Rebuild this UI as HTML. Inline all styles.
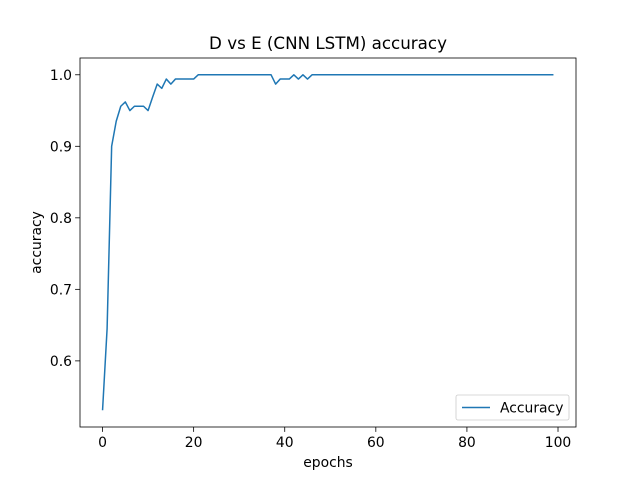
<!DOCTYPE html>
<html><head><meta charset="utf-8"><style>
body{margin:0;background:#fff;font-family:"Liberation Sans","DejaVu Sans",sans-serif}
text{font-family:"DejaVu Sans","Liberation Sans",sans-serif}
</style></head><body>
<svg id="c" width="640" height="480">
<rect width="640" height="480" fill="#fff"/>
</svg>
<script>
const epochs=[];for(let i=0;i<100;i++)epochs.push(i);
const accuracy=[0.531,0.645,0.9,0.935,0.956,0.962,0.95,0.956,0.956,0.956,0.95,0.969,0.987,0.981,0.994,0.987,0.994,0.994,0.994,0.994,0.994,1,1,1,1,1,1,1,1,1,1,1,1,1,1,1,1,1,0.987,0.994,0.994,0.994,1,0.994,1,0.994,1,1,1,1,1,1,1,1,1,1,1,1,1,1,1,1,1,1,1,1,1,1,1,1,1,1,1,1,1,1,1,1,1,1,1,1,1,1,1,1,1,1,1,1,1,1,1,1,1,1,1,1,1,1];
const xTicks=[0,20,40,60,80,100];
const yTicks=[0.6,0.7,0.8,0.9,1.0];
const L=80,R=576,T=58,B=427;
const xmin=-4.95,xmax=103.95;
const ymin=Math.min(...accuracy),ymax=Math.max(...accuracy),yr=ymax-ymin;
const y0=ymin-0.05*yr,y1=ymax+0.05*yr;
const X=v=>L+(v-xmin)/(xmax-xmin)*(R-L);
const Y=v=>B-(v-y0)/(y1-y0)*(B-T);
const s=document.getElementById('c');const NS='http://www.w3.org/2000/svg';
function mk(t,a,p){const e=document.createElementNS(NS,t);for(const k in a)e.setAttribute(k,a[k]);(p||s).appendChild(e);return e;}
let d=epochs.map((e,i)=>(i?'L':'M')+X(e).toFixed(2)+','+Y(accuracy[i]).toFixed(2)).join('');
const line=mk('path',{d:d,fill:'none',stroke:'#1f77b4','stroke-width':1.5,'stroke-linejoin':'round'});


const frame=mk('rect',{x:L,y:T,width:R-L,height:B-T,fill:'none',stroke:'#000','stroke-width':0.8});


xTicks.forEach(t=>{const x=X(t);mk('line',{x1:x,x2:x,y1:B,y2:B+4.9,stroke:'#000','stroke-width':0.8});
const tx=mk('text',{x:x,y:B+20,'text-anchor':'middle','font-size':13.9});tx.textContent=t;

});
yTicks.forEach(t=>{const y=Y(t);mk('line',{x1:L-4.9,x2:L,y1:y,y2:y,stroke:'#000','stroke-width':0.8});
const tx=mk('text',{x:L-8,y:y+5,'text-anchor':'end','font-size':13.9});tx.textContent=t.toFixed(1);

});
const ti=mk('text',{x:328,y:49,'text-anchor':'middle','font-size':16.7});ti.textContent='D vs E (CNN LSTM) accuracy';


const xl=mk('text',{x:328,y:467,'text-anchor':'middle','font-size':13.9});xl.textContent='epochs';


const yl=mk('text',{x:0,y:0,'text-anchor':'middle','font-size':13.9,transform:'translate(41,242.5) rotate(-90)'});yl.textContent='accuracy';


const lg=mk('g',{});


mk('rect',{x:456,y:395,width:113,height:25,rx:2,fill:'#fff',stroke:'#ccc','stroke-width':0.8},lg);
mk('line',{x1:462,x2:490,y1:407.5,y2:407.5,stroke:'#1f77b4','stroke-width':1.5},lg);
const lt=mk('text',{x:500,y:412.5,'font-size':13.9},lg);lt.textContent='Accuracy';


</script>
</body></html>
